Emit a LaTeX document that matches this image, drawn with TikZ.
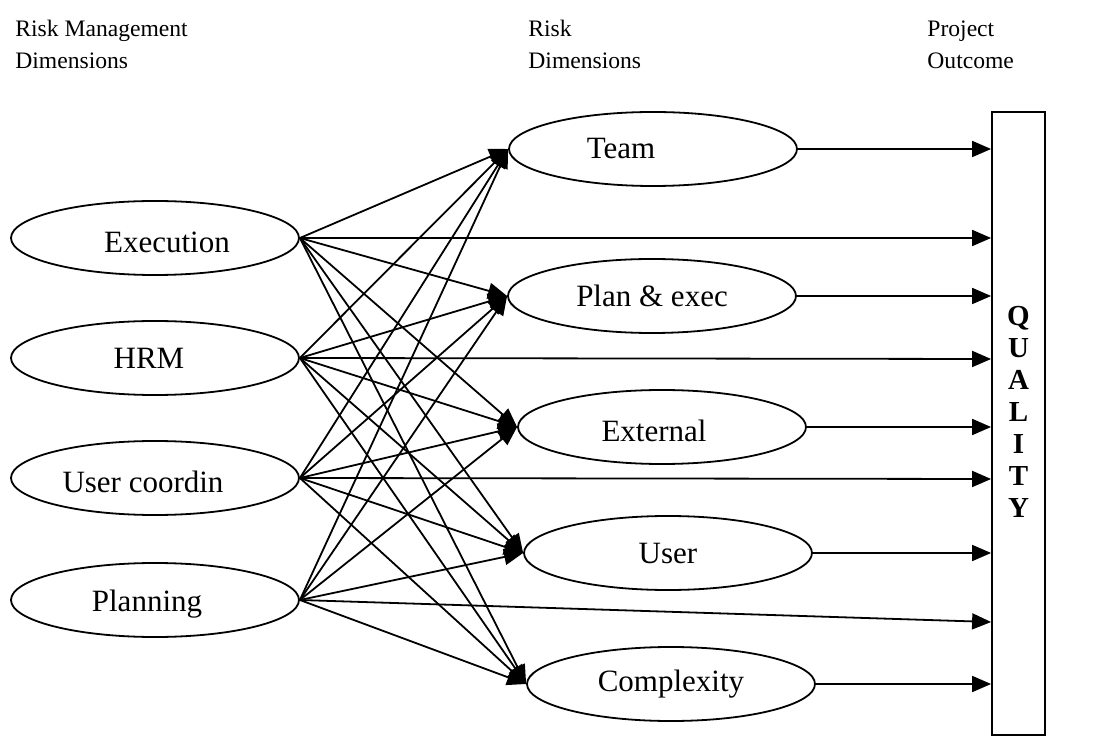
\documentclass[tikz,border=0pt]{standalone}
\usepackage{fontspec}
\setmainfont{Liberation Serif}
\usetikzlibrary{shapes.geometric, arrows.meta}
\begin{document}
\begin{tikzpicture}[x=0.5pt, y=-0.5pt,
  dimbox/.style={ellipse, draw, line width=0.9pt, minimum width=144pt,
    minimum height=37pt, inner sep=0pt},
  lbl/.style={font=\fontsize{15.5}{18}\selectfont, inner sep=0pt},
  link/.style={line width=0.9pt, -{Triangle[length=9.5pt, width=8pt]}},
  head/.style={anchor=north west, align=left, inner sep=0pt,
    font=\fontsize{11.8}{16}\selectfont}]
\useasboundingbox (0,0) rectangle (1096,742);

% column headings
\node[head] (h1) at (15,20) {Risk Management\\Dimensions};
\node[head] (h2) at (528,20) {Risk\\Dimensions};
\node[head] (h3) at (927,20) {Project\\Outcome};

% risk management dimensions
\node[dimbox, label={[lbl, xshift=6pt, yshift=-2pt]center:Execution}] (exe) at (155,238) {};
\node[dimbox, label={[lbl, xshift=-3pt]center:HRM}] (hrm) at (155,358) {};
\node[dimbox, label={[lbl, xshift=-6pt, yshift=-2pt]center:User coordin}] (uco) at (155,478) {};
\node[dimbox, label={[lbl, xshift=-4pt, yshift=-2pt]center:Planning}] (pla) at (155,600) {};

% risk dimensions
\node[dimbox, label={[lbl, xshift=-16pt]center:Team}] (team) at (653,149) {};
\node[dimbox, label={[lbl]center:Plan \& exec}] (plan) at (652,296) {};
\node[dimbox, label={[lbl, xshift=-4pt, yshift=-2pt]center:External}] (ext) at (662,427) {};
\node[dimbox, label={[lbl]center:User}] (user) at (668,553) {};
\node[dimbox, label={[lbl]center:Complexity}] (cpx) at (671,684) {};

% project outcome
\node[draw, line width=0.9pt, rectangle, minimum width=26.5pt, minimum height=311.5pt,
  inner sep=0pt,
  label={[inner sep=0pt, yshift=6pt, align=center,
    font=\fontsize{14.5}{16}\selectfont\bfseries]center:Q\\U\\A\\L\\I\\T\\Y}]
  (q) at (1018.5,423.5) {};

% every management dimension drives every risk dimension
\foreach \s in {exe,hrm,uco,pla}{
  \foreach \t in {team,plan,ext,user,cpx}{
    \draw[link] (\s.east) -- (\t.west);
  }
}

% direct links from management dimensions to the outcome
\coordinate (qe) at (q.west |- 0,238);
\coordinate (qh) at (q.west |- 0,359);
\coordinate (qu) at (q.west |- 0,479);
\coordinate (qp) at (q.west |- 0,622);
\draw[link] (exe.east) -- (qe);
\draw[link] (hrm.east) -- (qh);
\draw[link] (uco.east) -- (qu);
\draw[link] (pla.east) -- (qp);

% risk dimensions to the outcome
\foreach \t in {team,plan,ext,user,cpx}{
  \draw[link] (\t.east) -- (q.west |- \t.east);
}
\end{tikzpicture}
\end{document}
